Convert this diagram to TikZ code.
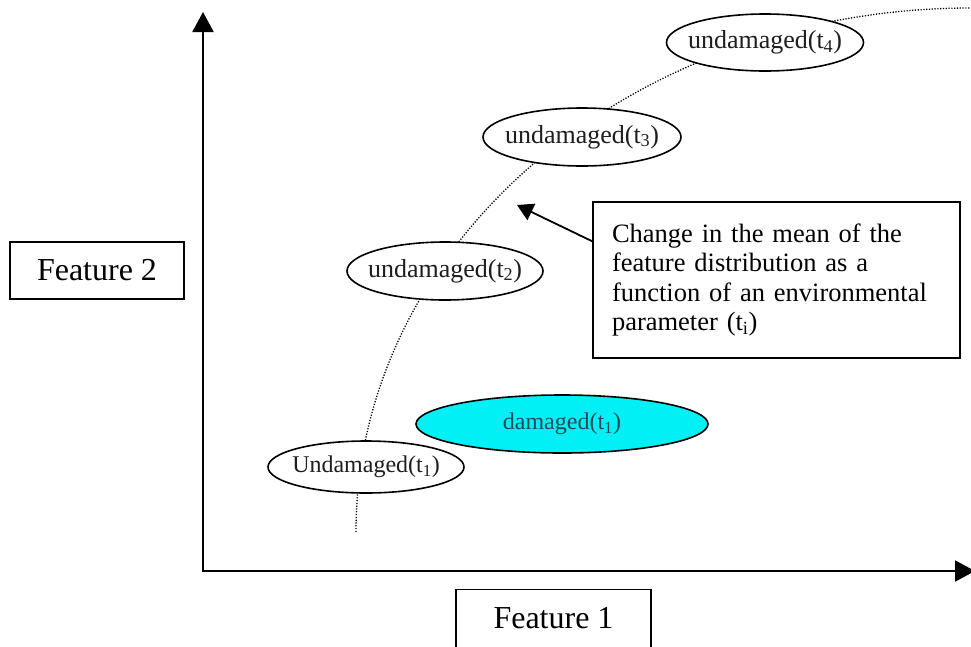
\documentclass[tikz,border=0pt]{standalone}
\usepackage{fontspec}
\setmainfont{Liberation Serif}
\usetikzlibrary{arrows.meta,shapes.geometric}
\definecolor{cyanfill}{RGB}{0,240,245}
\definecolor{damtext}{RGB}{35,75,85}
\definecolor{inkgray}{RGB}{30,30,30}
\tikzset{
  axisline/.style={line width=2pt, -{Triangle[length=20pt,width=21pt]}},
  featbox/.style={draw, line width=1.3pt, rectangle, inner sep=0pt, font=\fontsize{32}{36}\selectfont},
  oval/.style={draw, line width=1.6pt, ellipse, inner sep=0pt, fill=white, text=inkgray,
               minimum width=196pt, minimum height=57pt, font=\fontsize{26}{30}\selectfont},
  trendline/.style={line width=1.3pt, dash pattern=on 1.2pt off 1.6pt},
  callbox/.style={draw, line width=1.3pt, rectangle, inner xsep=19pt, inner ysep=0pt,
                  minimum width=367pt, minimum height=156pt, text width=329pt, align=left,
                  font=\fontsize{26.5}{29.4}\selectfont},
  callarrow/.style={line width=1.8pt, -{Triangle[length=16pt,width=18pt]}}
}
\newcommand{\ctext}[1]{\makebox[0pt]{#1}}
\begin{document}
\begin{tikzpicture}[x=1pt,y=-1pt]
\useasboundingbox[fill=white] (0,0) rectangle (971,646);

% dotted trend curve
\coordinate (curvestart) at (356,532);
\draw[trendline] (curvestart) arc[start angle=180, end angle=270, x radius=615, y radius=524];

% axes
\coordinate (origin) at (203,571);
\coordinate (ytip) at (203,12);
\coordinate (xtip) at (975,571);
\draw[axisline] (origin) -- (ytip);
\draw[line width=2pt] ([xshift=-1pt]origin) -- (origin);
\draw[axisline] (origin) -- (xtip);

% feature boxes
\node[featbox, minimum width=174pt, minimum height=57pt] (f2) at (97,270.5) {Feature 2};
\node[featbox, minimum width=195pt, text height=22pt, text depth=45pt, inner ysep=17pt, anchor=north]
  (f1) at (553.5,589) {Feature 1};

% ellipses
\node[oval, fill=cyanfill, text=damtext, minimum width=292pt, minimum height=58pt,
      font=\fontsize{24}{28}\selectfont] (dam) at (562,424) {\ctext{damaged(t\textsubscript{1})}};
\node[oval, minimum height=52pt, font=\fontsize{24}{28}\selectfont] (u1) at (366,467) {\ctext{Undamaged(t\textsubscript{1})}};
\node[oval, minimum height=58pt] (u2) at (445,271) {\ctext{undamaged(t\textsubscript{2})}};
\node[oval, minimum width=198pt, minimum height=58pt] (u3) at (582,137) {\ctext{undamaged(t\textsubscript{3})}};
\node[oval, minimum width=197pt] (u4) at (765,42.5) {\ctext{undamaged(t\textsubscript{4})}};

% callout
\node[callbox] (call) at (776.5,280) {Change in the mean of the\\ feature distribution as a\\ function of an environmental\\ parameter (t\textsubscript{i})};
\coordinate (calltip) at (517,205);
\draw[callarrow] ([yshift=-40pt]call.north west) -- (calltip);
\end{tikzpicture}
\end{document}
